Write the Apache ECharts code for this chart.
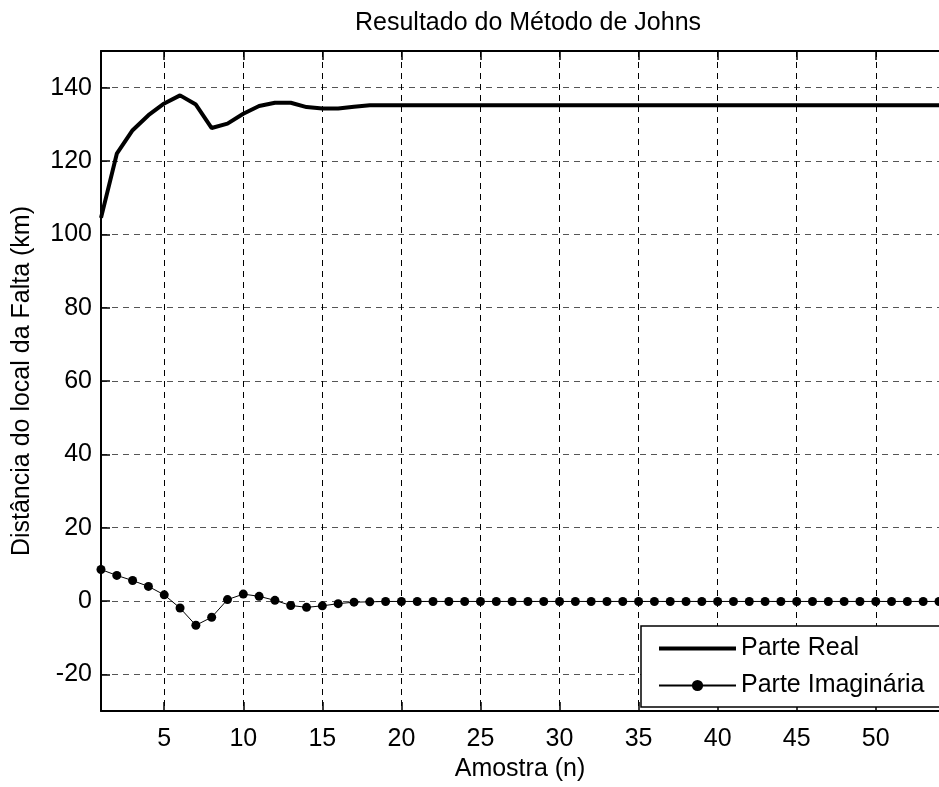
<!DOCTYPE html>
<html>
<head>
<meta charset="utf-8">
<script src="https://cdn.jsdelivr.net/npm/echarts@6/dist/echarts.min.js"></script>
<style>
html, body { margin: 0; padding: 0; background: #fff; }
#pic1 { width: 939px; height: 787px; }
</style>
</head>
<body>
<div id="pic1"></div>
<script>
// amostras n = 1..54 (eixo vai alem da borda direita da figura)
var amostras = [1,2,3,4,5,6,7,8,9,10,11,12,13,14,15,16,17,18,19,20,21,22,23,24,25,26,27,
  28,29,30,31,32,33,34,35,36,37,38,39,40,41,42,43,44,45,46,47,48,49,50,51,52,53,54];

// parte real da distancia (km)
var parteReal = [104.5,122.0,128.4,132.5,135.7,137.9,135.4,129.0,130.2,132.9,135.0,135.9,135.9,
  134.7,134.3,134.3,134.8,135.2,135.2,135.2,135.2,135.2,135.2,135.2,135.2,135.2,135.2,
  135.2,135.2,135.2,135.2,135.2,135.2,135.2,135.2,135.2,135.2,135.2,135.2,135.2,135.2,
  135.2,135.2,135.2,135.2,135.2,135.2,135.2,135.2,135.2,135.2,135.2,135.2,135.2];

// parte imaginaria
var parteImag = [8.6,7.0,5.6,4.0,1.7,-1.9,-6.6,-4.4,0.4,1.9,1.3,0.2,-1.2,-1.7,-1.3,-0.7,-0.3,
  -0.2,-0.1,-0.1,-0.1,-0.1,-0.1,-0.1,-0.1,-0.1,-0.1,-0.1,-0.1,-0.1,-0.1,-0.1,-0.1,-0.1,
  -0.1,-0.1,-0.1,-0.1,-0.1,-0.1,-0.1,-0.1,-0.1,-0.1,-0.1,-0.1,-0.1,-0.1,-0.1,-0.1,-0.1,
  -0.1,-0.1,-0.1];

var ticksX = [5,10,15,20,25,30,35,40,45,50];
var ticksY = [-20,0,20,40,60,80,100,120,140];

var fonte = '"Liberation Sans", Arial, sans-serif';

function pares(ys) {
  return amostras.map(function (n, i) { return [n, ys[i]]; });
}

var myChart = echarts.init(document.getElementById('pic1'));

var option = {
  animation: false,
  backgroundColor: '#fff',
  title: {
    text: 'Resultado do Método de Johns',
    left: 350,
    top: 6,
    textStyle: { fontFamily: fonte, fontSize: 25, fontWeight: 'normal', color: '#000' }
  },
  grid: { left: 101, top: 51, width: 848, height: 668 },
  legend: {
    orient: 'vertical',
    left: 641,
    top: 626,
    padding: [10, 22, 9, 16],
    itemGap: 12,
    itemWidth: 77,
    itemHeight: 14,
    itemTextGap: 10,
    borderColor: '#000',
    borderWidth: 1.5,
    backgroundColor: '#fff',
    textStyle: { fontFamily: fonte, fontSize: 25, color: '#000' },
    data: [
      { name: 'Parte Real', itemStyle: { opacity: 0 }, lineStyle: { width: 4, color: '#000' } },
      'Parte Imaginária'
    ]
  },
  xAxis: [
    {
      type: 'value',
      min: 1,
      max: 54,
      name: 'Amostra (n)',
      nameLocation: 'middle',
      nameGap: 34,
      nameTextStyle: { fontFamily: fonte, fontSize: 25, color: '#000' },
      axisLine: { onZero: false, lineStyle: { color: '#000', width: 2 } },
      axisTick: { inside: true, length: 9, customValues: ticksX, lineStyle: { color: '#000', width: 1.5 } },
      axisLabel: { customValues: ticksX, margin: 16, fontFamily: fonte, fontSize: 25, color: '#000' },
      splitLine: { show: true, lineStyle: { color: '#000', width: 1, type: [6, 5] } }
    },
    {
      type: 'value',
      position: 'top',
      min: 1,
      max: 54,
      axisLine: { onZero: false, lineStyle: { color: '#000', width: 2 } },
      axisTick: { inside: true, length: 9, customValues: ticksX, lineStyle: { color: '#000', width: 1.5 } },
      axisLabel: { show: false },
      splitLine: { show: false }
    }
  ],
  yAxis: {
    type: 'value',
    min: -30,
    max: 150,
    name: 'Distância do local da Falta (km)',
    nameLocation: 'middle',
    nameGap: 66,
    nameTextStyle: { fontFamily: fonte, fontSize: 25, color: '#000' },
    axisLine: { show: true, onZero: false, lineStyle: { color: '#000', width: 2 } },
    axisTick: { show: true, inside: true, length: 9, customValues: ticksY, lineStyle: { color: '#000', width: 1.5 } },
    axisLabel: { customValues: ticksY, margin: 9, fontFamily: fonte, fontSize: 25, color: '#000' },
    splitLine: { show: true, lineStyle: { color: '#555', width: 1, type: [6, 5] } }
  },
  series: [
    {
      name: 'Parte Real',
      type: 'line',
      data: pares(parteReal),
      showSymbol: false,
      symbol: 'none',
      lineStyle: { color: '#000', width: 4 },
      itemStyle: { color: '#000' }
    },
    {
      name: 'Parte Imaginária',
      type: 'line',
      data: pares(parteImag),
      symbol: 'circle',
      symbolSize: 9,
      lineStyle: { color: '#000', width: 1 },
      itemStyle: { color: '#000' }
    }
  ]
};

myChart.setOption(option);
</script>
</body>
</html>
